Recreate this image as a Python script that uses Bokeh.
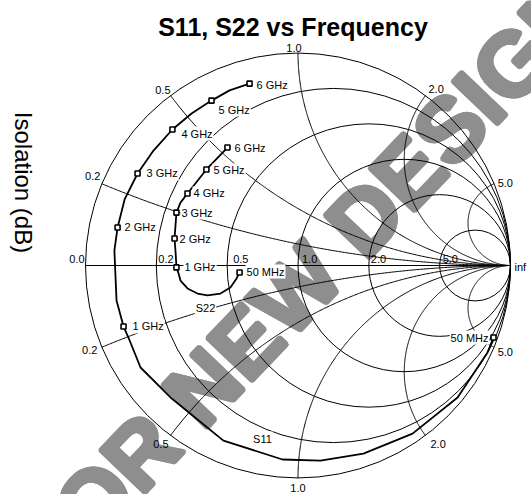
import numpy as np
from bokeh.plotting import figure
from bokeh.models import Range1d, Label
from bokeh.core.properties import value
from bokeh.embed import file_html
from bokeh.resources import INLINE

# ---------------- data ----------------
title_text = "S11, S22 vs Frequency"
ylabel_text = "Isolation (dB)"
watermark_text = "NOT FOR NEW DESIGN"

# Smith chart grid values
r_values = [0.2, 0.5, 1.0, 2.0, 5.0]          # constant-resistance circles
x_values = [0.2, 0.5, 1.0, 2.0, 5.0]          # constant-reactance arcs (+/-)
r_tick_labels = ["0.0", "0.2", "0.5", "1.0", "2.0", "5.0"]
x_tick_labels = ["0.2", "0.5", "1.0", "2.0", "5.0"]

# S11 trace (reflection coefficient, real / imaginary), 50 MHz -> 6 GHz
s11_re = [0.920, 0.892, 0.751, 0.539, 0.308, 0.106, -0.073, -0.351, -0.600,
          -0.741, -0.798, -0.821, -0.854, -0.864, -0.849, -0.816, -0.755,
          -0.680, -0.591, -0.501, -0.407, -0.322, -0.228]
s11_im = [-0.339, -0.409, -0.621, -0.791, -0.885, -0.918, -0.913, -0.824, -0.621,
          -0.480, -0.339, -0.287, -0.165, 0.071, 0.179, 0.311, 0.433,
          0.541, 0.640, 0.715, 0.776, 0.824, 0.856]
s11_mk_text = ["50 MHz", "1 GHz", "2 GHz", "3 GHz", "4 GHz", "5 GHz", "6 GHz"]
s11_mk_re = [0.920, -0.821, -0.849, -0.755, -0.591, -0.407, -0.228]
s11_mk_im = [-0.339, -0.287, 0.179, 0.433, 0.640, 0.776, 0.856]

# S22 trace, 50 MHz -> 6 GHz
s22_re = [-0.275, -0.289, -0.318, -0.365, -0.426, -0.473, -0.520, -0.553, -0.562,
          -0.572, -0.576, -0.581, -0.572, -0.553, -0.520, -0.431, -0.332]
s22_im = [-0.033, -0.061, -0.104, -0.132, -0.141, -0.132, -0.108, -0.071, -0.038,
          -0.009, 0.061, 0.127, 0.249, 0.296, 0.339, 0.452, 0.555]
s22_mk_text = ["50 MHz", "1 GHz", "2 GHz", "3 GHz", "4 GHz", "5 GHz", "6 GHz"]
s22_mk_re = [-0.275, -0.572, -0.581, -0.572, -0.520, -0.431, -0.332]
s22_mk_im = [-0.033, -0.009, 0.127, 0.249, 0.339, 0.452, 0.555]

# ---------------- layout ----------------
W, H = 531, 494
CX, CY, R = 297.5, 265.0, 212.5     # chart centre / radius in canvas pixels


def d(sx, sy):
    return (sx - CX) / R, (CY - sy) / R


p = figure(width=W, height=H, output_backend="svg", toolbar_location=None,
           x_range=Range1d(-CX / R, (W - CX) / R),
           y_range=Range1d((CY - H) / R, CY / R),
           min_border=0, outline_line_color=None)
p.axis.visible = False
p.grid.visible = False
p.background_fill_color = "white"
p.border_fill_color = "white"

FONT = "Liberation Sans"

# watermark (under everything), drawn with small offsets to make a heavy face
wx, wy = d(232, 356)
offs = [(0, 0), (2.2, 0), (-2.2, 0), (0, 2.2), (0, -2.2),
        (1.6, 1.6), (-1.6, 1.6), (1.6, -1.6), (-1.6, -1.6)]
p.text(x=[wx] * len(offs), y=[wy] * len(offs), text=[watermark_text] * len(offs),
       x_offset=[o[0] for o in offs], y_offset=[o[1] for o in offs],
       angle=np.deg2rad(46.3),
       text_font=value(FONT), text_font_style="bold", text_font_size="90px",
       text_color="#8e8e8e", text_align="center", text_baseline="middle")

# outer circle + resistance circles
rc_x = [0.0] + [r / (1 + r) for r in r_values]
rc_rad = [1.0] + [1 / (1 + r) for r in r_values]
p.circle(x=rc_x, y=[0.0] * len(rc_x), radius=rc_rad, fill_color=None,
         line_color="black", line_width=1)

# reactance arcs
xs, ys = [], []
for xv in x_values:
    cy = 1 / xv
    px_, py_ = (xv ** 2 - 1) / (xv ** 2 + 1), 2 * xv / (xv ** 2 + 1)
    a0 = np.arctan2(py_ - cy, px_ - 1) % (2 * np.pi)
    a1 = 1.5 * np.pi
    t = np.linspace(a0, a1, 300)
    ax = 1 + (1 / xv) * np.cos(t)
    ay = cy + (1 / xv) * np.sin(t)
    xs += [ax.tolist(), ax.tolist()]
    ys += [ay.tolist(), (-ay).tolist()]
p.multi_line(xs=xs, ys=ys, line_color="black", line_width=1)

# real axis
p.line(x=[-1, 1], y=[0, 0], line_color="black", line_width=1)

# traces
p.line(x=s11_re, y=s11_im, line_color="black", line_width=1.8)
p.line(x=s22_re, y=s22_im, line_color="black", line_width=1.8)
p.scatter(x=s11_mk_re + s22_mk_re, y=s11_mk_im + s22_mk_im, marker="square",
          size=5, fill_color="white", line_color="black", line_width=1.6)

# resistance tick labels on the real axis
r_all = [0.0] + r_values
r_dx = [-1, 2, 6, 4, 2, 3]
for rv, txt, dx in zip(r_all, r_tick_labels, r_dx):
    gx = (rv - 1) / (rv + 1)
    p.add_layout(Label(x=gx, y=0, x_offset=dx, y_offset=7, text=txt,
                       text_font=FONT, text_font_size="11px",
                       text_align="right" if rv == 0 else "left",
                       text_baseline="middle", text_color="black"))

# reactance tick labels on the outer circle (top then bottom)
top_off = {"0.2": (-1.5, -8, "right"), "0.5": (0, -6, "right"), "1.0": (-4, -5.5, "center"),
           "2.0": (3, -7, "left"), "5.0": (3.5, -1, "left")}
bot_off = {"0.2": (-4.5, 3, "right"), "0.5": (-2, 8, "right"), "1.0": (0, 9.5, "center"),
           "2.0": (5, 8, "left"), "5.0": (3.5, 5, "left")}
for xv, txt in zip(x_values, x_tick_labels):
    gx = (xv ** 2 - 1) / (xv ** 2 + 1)
    gy = 2 * xv / (xv ** 2 + 1)
    for sgn, off in ((1, top_off), (-1, bot_off)):
        dx, dy, al = off[txt]
        p.add_layout(Label(x=gx, y=sgn * gy, x_offset=dx, y_offset=-dy, text=txt,
                           text_font=FONT, text_font_size="11px", text_align=al,
                           text_baseline="middle", text_color="black"))
p.add_layout(Label(x=1, y=0, x_offset=4, y_offset=-1, text="inf", text_font=FONT,
                   text_font_size="11px", text_align="left", text_baseline="middle",
                   text_color="black"))

# frequency marker labels (white boxes)
s11_off = [(-4, 0, "right"), (8, 0, "left"), (6, 0, "left"), (8, 0, "left"),
           (8, 4, "left"), (6, 9, "left"), (6, 1, "left")]
s22_off = [(6, -1, "left"), (7, 0, "left"), (4, 0, "left"), (4, 0, "left"),
           (5, 0, "left"), (6, 1, "left"), (6, 0, "left")]
for mre, mim, txt, off in list(zip(s11_mk_re, s11_mk_im, s11_mk_text, s11_off)) + \
        list(zip(s22_mk_re, s22_mk_im, s22_mk_text, s22_off)):
    dx, dy, al = off
    p.add_layout(Label(x=mre, y=mim, x_offset=dx, y_offset=-dy, text=txt,
                       text_font=FONT, text_font_size="11px", text_align=al,
                       text_baseline="middle", text_color="black",
                       background_fill_color="white", padding=1))

# trace names
for txt, (sx, sy) in (("S22", (205, 307)), ("S11", (262, 438))):
    lx, ly = d(sx, sy)
    p.add_layout(Label(x=lx, y=ly, text=txt, text_font=FONT, text_font_size="11px",
                       text_align="center", text_baseline="middle", text_color="black",
                       background_fill_color="white", padding=1))

# title and left label
tx, ty = d(292.5, 26)
p.add_layout(Label(x=tx, y=ty, text=title_text, text_font=FONT, text_font_size="25px",
                   text_font_style="bold", text_align="center",
                   text_baseline="alphabetic", text_color="black"))
lx, ly = d(23, 182)
p.add_layout(Label(x=lx, y=ly, text=ylabel_text, text_font=FONT, text_font_size="24px",
                   angle=-np.pi / 2, text_align="center", text_baseline="middle",
                   text_color="black"))

open("out.html", "w").write(file_html(p, INLINE))
